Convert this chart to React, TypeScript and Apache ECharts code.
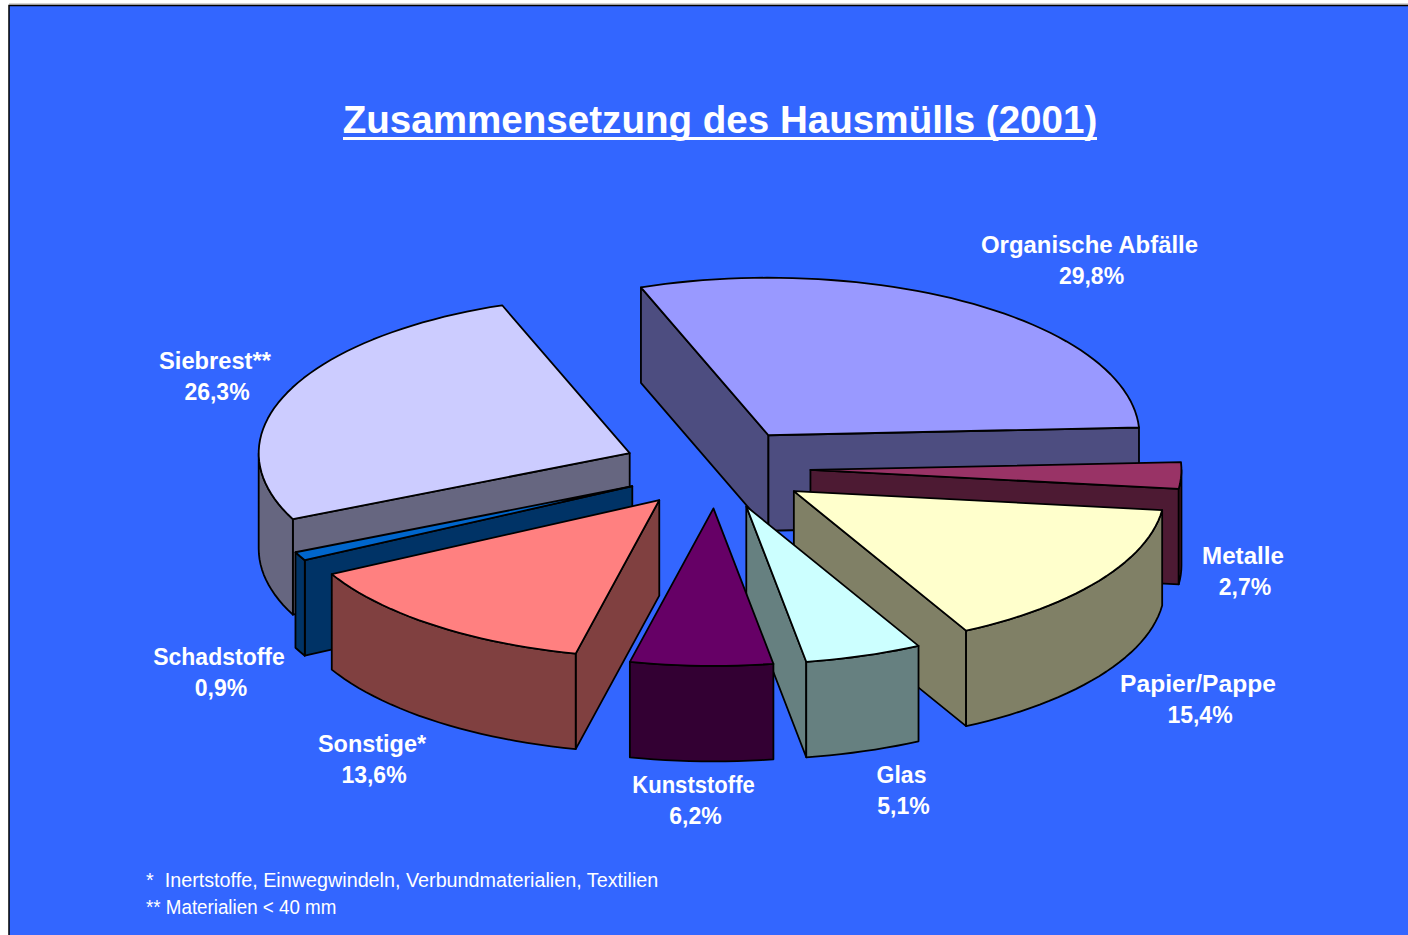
import React, { useEffect, useRef } from "react";
import * as echarts from "echarts";

// ---- data ----
const categories = ["Organische Abfälle", "Metalle", "Papier/Pappe", "Glas", "Kunststoffe", "Sonstige*", "Schadstoffe", "Siebrest**"];
const values = [29.8, 2.7, 15.4, 5.1, 6.2, 13.6, 0.9, 26.3];
const valueLabels = ["29,8%", "2,7%", "15,4%", "5,1%", "6,2%", "13,6%", "0,9%", "26,3%"];
const topColors = ["#9999FF", "#993366", "#FFFFCC", "#CCFFFF", "#660066", "#FF8080", "#0066CC", "#CCCCFF"];
const sideColors = ["#4D4D80", "#4D1A33", "#808066", "#668080", "#330033", "#804040", "#003366", "#666680"];
const titleText = "Zusammensetzung des Hausmülls (2001)";
const footnotes = ["*  Inertstoffe, Einwegwindeln, Verbundmaterialien, Textilien", "** Materialien < 40 mm"];

// ---- layout ----
const W = 1408, H = 935;
const CX = 716.5, CY = 468.5;  // pie centre
const RX = 371, RY = 157.5;    // ellipse radii of the tilted pie
const DEPTH = 95.5;            // thickness
const EXPLODE = 94;            // explosion along each slice's middle, before tilt
const START_DEG = -110.1;      // first slice starts here, clockwise on screen
const paintOrder = [0, 7, 6, 1, 2, 3, 4, 5]; // back to front
const labelCentres = [[1089.5, 245], [1243, 556], [1198, 684], [901.5, 775], [693.5, 785], [372, 744], [219, 657], [215, 361]];
const labelStretch = [1.04, 1.05, 1.07, 1, 0.96, 1.02, 1, 1.03];
const LABEL_LINE = 31;
const footnoteStretch = [1.014, 0.963];

const total = values.reduce((a, b) => a + b, 0);
const rad = (d: number) => (d * Math.PI) / 180;
const slices = (() => {
  let acc = START_DEG;
  return values.map((v) => {
    const t0 = acc;
    const t1 = acc + (v / total) * 360;
    acc = t1;
    return { t0, t1 };
  });
})();

function renderSlice(params: any) {
  const i = paintOrder[params.dataIndex];
  const { t0, t1 } = slices[i];
  const mid = rad((t0 + t1) / 2);
  const ax = CX + EXPLODE * Math.cos(mid);
  const ay = CY + EXPLODE * (RY / RX) * Math.sin(mid);
  const pt = (deg: number, drop = 0) => [ax + RX * Math.cos(rad(deg)), ay + RY * Math.sin(rad(deg)) + drop];
  const arc = (from: number, to: number, drop = 0) => {
    const n = Math.max(2, Math.ceil((to - from) / 2));
    return Array.from({ length: n + 1 }, (_, k) => pt(from + ((to - from) * k) / n, drop));
  };
  const edge = { stroke: "#000", lineWidth: 1.8, lineJoin: "round" };
  const children: any[] = [];
  const wall = (points: number[][]) =>
    children.push({ type: "polygon", shape: { points }, style: { ...edge, fill: sideColors[i] } });

  // cut faces that look towards the viewer
  if (Math.cos(rad(t0)) < 0) {
    wall([[ax, ay], pt(t0), pt(t0, DEPTH), [ax, ay + DEPTH]]);
  }
  if (Math.cos(rad(t1)) > 0) {
    wall([[ax, ay], pt(t1), pt(t1, DEPTH), [ax, ay + DEPTH]]);
  }
  // outer wall: only the part on the front half of the rim
  for (const k of [-1, 0, 1, 2]) {
    const a = Math.max(t0, k * 360);
    const b = Math.min(t1, k * 360 + 180);
    if (b > a) {
      wall([...arc(a, b), ...arc(a, b, DEPTH).reverse()]);
    }
  }
  children.push({
    type: "polygon",
    shape: { points: [[ax, ay], ...arc(t0, t1)] },
    style: { ...edge, fill: topColors[i] },
  });
  return { type: "group", children };
}

export default function App() {
  const ref = useRef<HTMLDivElement>(null);
  useEffect(() => {
    document.body.style.margin = "0";
    const chart = echarts.init(ref.current!, undefined, { renderer: "svg" });
    const white = "#FFFFFF";
    const labelGraphics = categories.flatMap((c, i) => [
      {
        type: "text", x: labelCentres[i][0], y: labelCentres[i][1], z: 5, scaleX: labelStretch[i],
        style: { text: c, fill: white, font: 'bold 23px "Liberation Sans"', textAlign: "center", textVerticalAlign: "middle" },
      },
      {
        type: "text", x: labelCentres[i][0] + 2, y: labelCentres[i][1] + LABEL_LINE, z: 5,
        style: { text: valueLabels[i], fill: white, font: 'bold 23px "Liberation Sans"', textAlign: "center", textVerticalAlign: "middle" },
      },
    ]);
    chart.setOption({
      animation: false,
      backgroundColor: "#FFFFFF",
      graphic: {
        elements: [
          { type: "line", z: -2, shape: { x1: 9, y1: 4, x2: W, y2: 4 }, style: { stroke: "#AAAAAA", lineWidth: 1 } },
          {
            type: "rect", z: -1, silent: true,
            shape: { x: 9, y: 5.5, width: W + 20, height: H + 20 },
            style: { fill: "#3366FF", stroke: "#000", lineWidth: 1.5 },
          },
          {
            type: "text", x: 720, y: 119, z: 5,
            style: { text: titleText, fill: white, font: 'bold 38.6px "Liberation Sans"', textAlign: "center", textVerticalAlign: "middle" },
          },
          { type: "rect", z: 5, shape: { x: 343, y: 137, width: 754, height: 3 }, style: { fill: white } },
          {
            type: "text", x: 146, y: 880, z: 5, scaleX: footnoteStretch[0],
            style: { text: footnotes[0], fill: white, font: '19.5px "Liberation Sans"', textVerticalAlign: "middle" },
          },
          {
            type: "text", x: 146, y: 907, z: 5, scaleX: footnoteStretch[1],
            style: { text: footnotes[1], fill: white, font: '19.5px "Liberation Sans"', textVerticalAlign: "middle" },
          },
          ...labelGraphics,
        ],
      },
      series: [
        {
          type: "custom",
          coordinateSystem: "none",
          silent: true,
          clip: false,
          z: 2,
          data: paintOrder.map((i) => values[i]),
          renderItem: renderSlice,
        },
      ],
    });
    return () => chart.dispose();
  }, []);
  return <div ref={ref} style={{ width: W, height: H, position: "fixed", left: 0, top: 0 }} />;
}
